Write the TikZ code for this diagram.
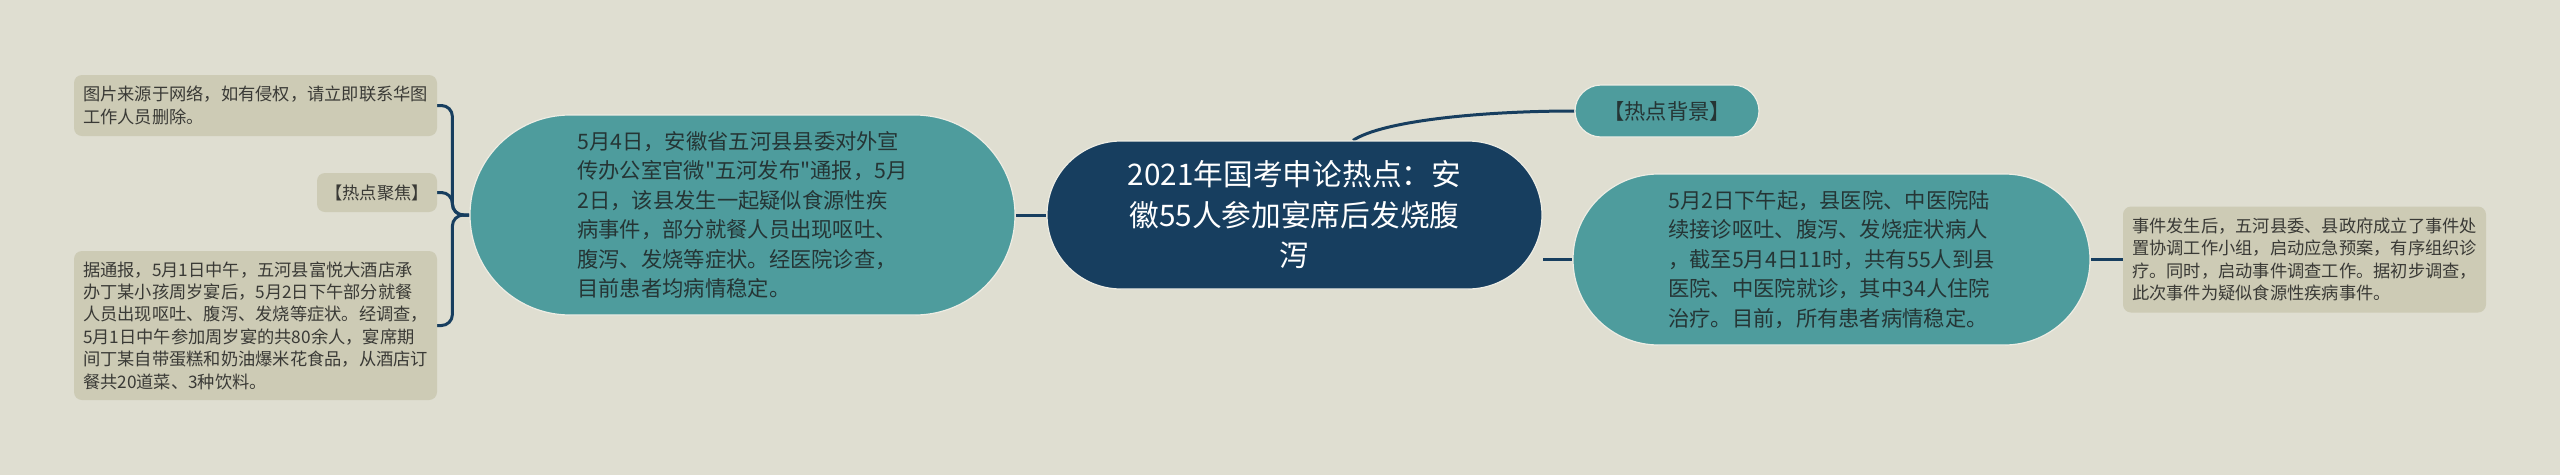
\documentclass[tikz,border=0pt]{standalone}
\usepackage{fontspec}
\setmainfont{Noto Sans CJK SC}[Ligatures=TeXOff]
\usetikzlibrary{calc}
\definecolor{bgc}{HTML}{DFDED1}
\definecolor{navy}{HTML}{173E5F}
\definecolor{tealc}{HTML}{4E9C9D}
\definecolor{leafc}{HTML}{CDCBB5}
\definecolor{ink}{HTML}{253535}
\definecolor{leafink}{HTML}{3A3A36}
\definecolor{rim}{HTML}{EEEDE4}
\pgfdeclarelayer{back}\pgfdeclarelayer{edges}\pgfsetlayers{back,edges,main}
\begin{document}
\begin{tikzpicture}[x=1pt,y=-1pt,
 conn/.style={draw=navy,line width=3pt},
 central/.style={fill=navy,draw=rim,line width=1.2pt,text=white,align=center,inner sep=0pt,font=\fontsize{29.7}{40.5}\selectfont},
 mainbox/.style={fill=tealc,draw=rim,line width=1.2pt,text=ink,align=left,inner sep=0pt,font=\fontsize{21.3}{29.5}\selectfont},
 leafbox/.style={fill=leafc,rounded corners=8pt,text=leafink,align=left,inner sep=0pt,font=\fontsize{17.25}{22.4}\selectfont}]
\begin{pgfonlayer}{back}
\fill[bgc] (0,0) rectangle (2560,475);
\end{pgfonlayer}
\useasboundingbox (0,0) rectangle (2560,475);

\node[central,minimum width=495pt,minimum height=148pt,rounded corners=74pt] (c) at (1294.5,215)
 {2021年国考申论热点：安\\徽55人参加宴席后发烧腹\\泻};

\node[mainbox,minimum width=545pt,minimum height=200pt,rounded corners=100pt] (L) at (742.5,215)
 {5月4日，安徽省五河县县委对外宣\\传办公室官微"五河发布"通报，5月\\2日，该县发生一起疑似食源性疾\\病事件，部分就餐人员出现呕吐、\\腹泻、发烧等症状。经医院诊查，\\目前患者均病情稳定。};

\node[mainbox,minimum width=517pt,minimum height=171pt,rounded corners=85.5pt] (R) at (1831.5,259.5)
 {5月2日下午起，县医院、中医院陆\\续接诊呕吐、腹泻、发烧症状病人\\，截至5月4日11时，共有55人到县\\医院、中医院就诊，其中34人住院\\治疗。目前，所有患者病情稳定。};

\node[mainbox,align=center,minimum width=184pt,minimum height=52pt,rounded corners=26pt] (bg) at (1667,111)
 {【热点背景】};

\node[leafbox,minimum width=363pt,minimum height=106pt] (rl) at (2304.5,259.5)
 {事件发生后，五河县委、县政府成立了事件处\\置协调工作小组，启动应急预案，有序组织诊\\疗。同时，启动事件调查工作。据初步调查，\\此次事件为疑似食源性疾病事件。};

\node[leafbox,minimum width=363pt,minimum height=61pt] (l1) at (255.5,105.5)
 {图片来源于网络，如有侵权，请立即联系华图\\工作人员删除。};

\node[leafbox,align=center,minimum width=120pt,minimum height=39pt] (l2) at (377,192.5)
 {【热点聚焦】};

\node[leafbox,minimum width=363pt,minimum height=149pt] (l3) at (255.5,325.5)
 {据通报，5月1日中午，五河县富悦大酒店承\\办丁某小孩周岁宴后，5月2日下午部分就餐\\人员出现呕吐、腹泻、发烧等症状。经调查，\\5月1日中午参加周岁宴的共80余人，宴席期\\间丁某自带蛋糕和奶油爆米花食品，从酒店订\\餐共20道菜、3种饮料。};

\begin{pgfonlayer}{edges}
\draw[conn] (L.east) -- (c.west);
\draw[conn] (R.west) -- (R.west -| c.east);
\draw[conn] ([xshift=58.5pt]c.north) .. controls +(30,-20) and +(-90,0) .. (bg.west);
\draw[conn] (R.east) -- (rl.west);
\coordinate (j) at ($(L.west)+(-17,0)$);
\draw[conn,rounded corners=11pt] (L.west) -- (j) |- (l1.east);
\draw[conn,rounded corners=11pt] (L.west) -- (j) |- (l2.east);
\draw[conn,rounded corners=11pt] (L.west) -- (j) |- (l3.east);
\end{pgfonlayer}
\end{tikzpicture}
\end{document}
